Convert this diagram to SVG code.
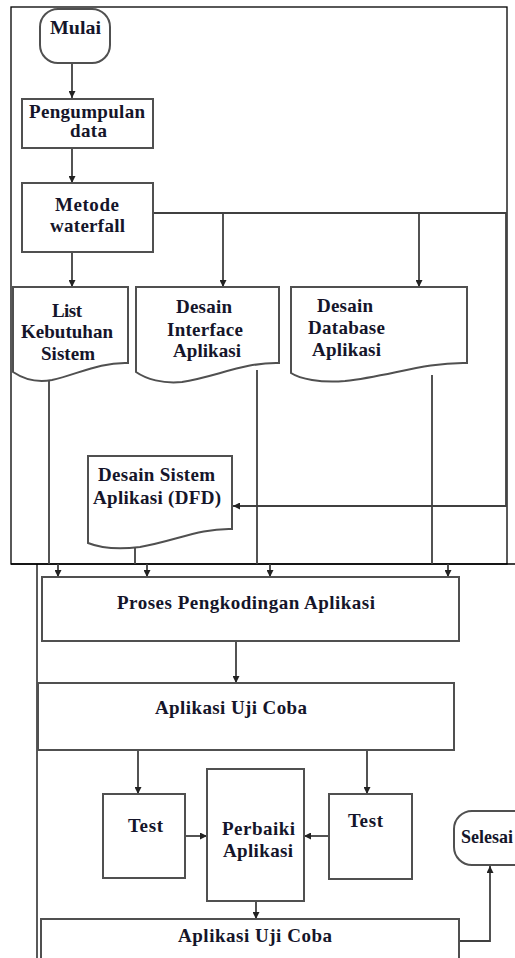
<svg xmlns="http://www.w3.org/2000/svg" width="515" height="958" viewBox="0 0 515 958">
<style>
.bg{fill:#fff}
.frame{fill:none;stroke:#000;stroke-width:1.3}
.box{fill:#fff;stroke:#505050;stroke-width:2}
.ln{fill:none;stroke:#404040;stroke-width:1.8}
.t{font-family:"Liberation Serif","Times New Roman",serif;font-weight:bold;font-size:19px;fill:#15152a}
</style>
<defs>
<marker id="ah" viewBox="0 0 10 10" refX="10" refY="5" markerWidth="9" markerHeight="7" markerUnits="userSpaceOnUse" orient="auto">
<path d="M0,0 L10,5 L0,10 z" fill="#222"/>
</marker>
</defs>
<rect class="bg" x="0" y="0" width="515" height="958"/>
<g id="frames">
<rect class="frame" x="11" y="7" width="496" height="557"/>
<line class="frame" x1="11" y1="564" x2="515" y2="564"/>
<line class="frame" x1="37" y1="564" x2="37" y2="958"/>
</g>
<g id="connectors">
<path class="ln" d="M72,63 V98" marker-end="url(#ah)"/>
<path class="ln" d="M72,148 V183" marker-end="url(#ah)"/>
<path class="ln" d="M72,252 V287" marker-end="url(#ah)"/>
<path class="ln" d="M153,213 H506 V506 H233" marker-end="url(#ah)"/>
<path class="ln" d="M223,213 V287" marker-end="url(#ah)"/>
<path class="ln" d="M419,213 V287" marker-end="url(#ah)"/>
<path class="ln" d="M49,379 V564"/>
<path class="ln" d="M257,370 V564"/>
<path class="ln" d="M432,375 V564"/>
<path class="ln" d="M135,548 V564"/>
<path class="ln" d="M58,564 V577" marker-end="url(#ah)"/>
<path class="ln" d="M147,564 V577" marker-end="url(#ah)"/>
<path class="ln" d="M270,564 V577" marker-end="url(#ah)"/>
<path class="ln" d="M448,564 V577" marker-end="url(#ah)"/>
<path class="ln" d="M236,641 V683" marker-end="url(#ah)"/>
<path class="ln" d="M138,750 V794" marker-end="url(#ah)"/>
<path class="ln" d="M367,750 V794" marker-end="url(#ah)"/>
<path class="ln" d="M185,836 H207" marker-end="url(#ah)"/>
<path class="ln" d="M329,836 H304" marker-end="url(#ah)"/>
<path class="ln" d="M256,901 V919" marker-end="url(#ah)"/>
<path class="ln" d="M459,941 H490 V866" marker-end="url(#ah)"/>
</g>
<g id="mulai">
<rect class="box" x="40" y="9" width="70" height="54" rx="18" ry="18"/>
<text class="t" x="50" y="34" textLength="51" lengthAdjust="spacingAndGlyphs">Mulai</text>
</g>
<g id="pengumpulan">
<rect class="box" x="22" y="99" width="131" height="49"/>
<text class="t" x="29" y="118" textLength="116" lengthAdjust="spacing">Pengumpulan</text>
<text class="t" x="70" y="137" textLength="37" lengthAdjust="spacing">data</text>
</g>
<g id="metode">
<rect class="box" x="22" y="183" width="131" height="69"/>
<text class="t" x="55" y="211" textLength="64" lengthAdjust="spacing">Metode</text>
<text class="t" x="50" y="232" textLength="75" lengthAdjust="spacing">waterfall</text>
</g>
<g id="list">
<path class="box" d="M13,287 H128 V363 C100,362 78,374 52,380 C36,383 22,378 13,372 Z"/>
<text class="t" x="52" y="317" textLength="30" lengthAdjust="spacing">List</text>
<text class="t" x="21" y="338" textLength="92" lengthAdjust="spacing">Kebutuhan</text>
<text class="t" x="41" y="360" textLength="54" lengthAdjust="spacing">Sistem</text>
</g>
<g id="interface">
<path class="box" d="M136,287 H279 V363 C245,362 215,377 182,382 C163,384 146,379 136,372 Z"/>
<text class="t" x="176" y="313" textLength="56" lengthAdjust="spacing">Desain</text>
<text class="t" x="167" y="336" textLength="76" lengthAdjust="spacing">Interface</text>
<text class="t" x="173" y="357" textLength="68" lengthAdjust="spacing">Aplikasi</text>
</g>
<g id="database">
<path class="box" d="M291,287 H467 V363 C425,362 390,376 345,381 C320,383 300,379 291,373 Z"/>
<text class="t" x="317" y="312" textLength="56" lengthAdjust="spacing">Desain</text>
<text class="t" x="308" y="334" textLength="77" lengthAdjust="spacing">Database</text>
<text class="t" x="312" y="356" textLength="69" lengthAdjust="spacing">Aplikasi</text>
</g>
<g id="dfd">
<path class="box" d="M88,456 H232 V529 C200,528 175,541 140,547 C115,550 98,547 88,543 Z"/>
<text class="t" x="98" y="481" textLength="117" lengthAdjust="spacing">Desain Sistem</text>
<text class="t" x="93" y="504" textLength="128" lengthAdjust="spacing">Aplikasi (DFD)</text>
</g>
<g id="proses">
<rect class="box" x="42" y="577" width="417" height="64"/>
<text class="t" x="117" y="609" textLength="258" lengthAdjust="spacing">Proses Pengkodingan Aplikasi</text>
</g>
<g id="ujicoba1">
<rect class="box" x="38" y="683" width="416" height="67"/>
<text class="t" x="155" y="714" textLength="152" lengthAdjust="spacing">Aplikasi Uji Coba</text>
</g>
<g id="test1">
<rect class="box" x="103" y="794" width="82" height="84"/>
<text class="t" x="128" y="832" textLength="35" lengthAdjust="spacing">Test</text>
</g>
<g id="perbaiki">
<rect class="box" x="207" y="769" width="97" height="132"/>
<text class="t" x="222" y="835" textLength="73" lengthAdjust="spacing">Perbaiki</text>
<text class="t" x="223" y="857" textLength="70" lengthAdjust="spacing">Aplikasi</text>
</g>
<g id="test2">
<rect class="box" x="329" y="794" width="83" height="85"/>
<text class="t" x="348" y="827" textLength="35" lengthAdjust="spacing">Test</text>
</g>
<g id="ujicoba2">
<rect class="box" x="41" y="919" width="418" height="50"/>
<text class="t" x="178" y="942" textLength="154" lengthAdjust="spacing">Aplikasi Uji Coba</text>
</g>
<g id="selesai">
<rect class="box" x="454" y="811" width="90" height="54" rx="18" ry="18"/>
<text class="t" x="461" y="843" textLength="52" lengthAdjust="spacingAndGlyphs">Selesai</text>
</g>
</svg>
